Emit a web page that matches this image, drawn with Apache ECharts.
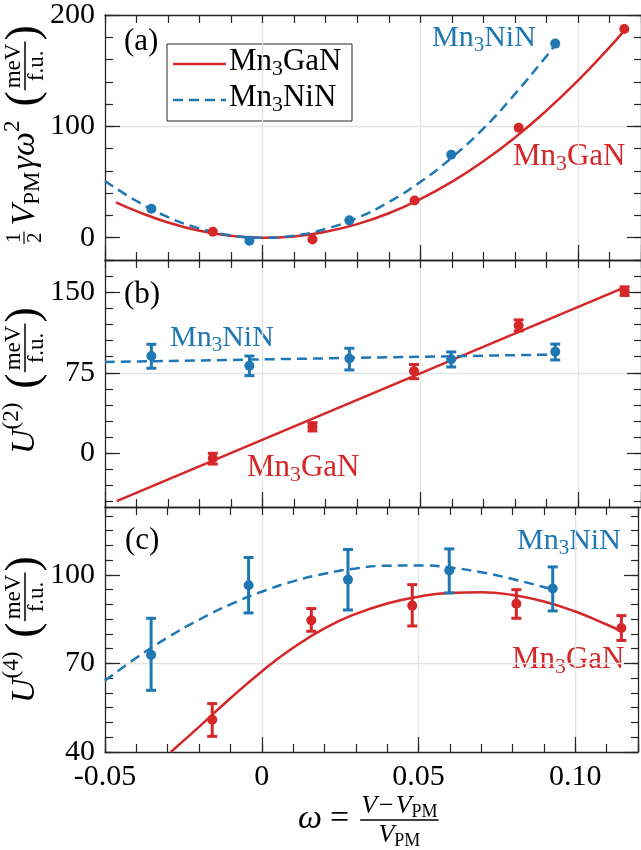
<!DOCTYPE html>
<html>
<head>
<meta charset="utf-8">
<script src="https://cdn.jsdelivr.net/npm/echarts@6/dist/echarts.min.js"></script>
<style>
  html, body { margin: 0; padding: 0; background: #fff; }
  #chart { width: 641px; height: 850px; }
</style>
</head>
<body>
<div id="chart"></div>
<script>
// shared x range and tick labels
const xMin = -0.05, xMax = 0.12
const xTicks = [-0.05, 0, 0.05, 0.10]
const xTickLabels = ["-0.05", "0", "0.05", "0.10"]

const yRangeA = [-20, 200], yTicksA = [0, 100, 200]
const yRangeB = [-50, 180], yTicksB = [0, 75, 150]
const yRangeC = [40, 123], yTicksC = [40, 70, 100]

// (a) 1/2 V_PM gamma omega^2  [omega, value]
const aGaPts = [[-0.0158, 5.4], [0.0158, -1.5], [0.0482, 33.5], [0.0812, 98.8], [0.1147, 187.4]]
const aNiPts = [[-0.0353, 26], [-0.0042, -2.7], [0.0275, 15.6], [0.0598, 74.5], [0.0928, 174.3]]
const aGaFit = [[-0.0465, 31.8], [-0.04, 23.9], [-0.03, 13.7], [-0.02, 6.2], [-0.01, 1.7], [0, 0], [0.01, 1.2],
  [0.02, 5.3], [0.03, 12.2], [0.04, 22], [0.05, 34.7], [0.06, 50.2], [0.07, 68.6], [0.08, 89.9], [0.09, 114.1],
  [0.10, 141.1], [0.11, 171], [0.1147, 186]]
const aNiFit = [[-0.05, 51], [-0.04, 33], [-0.03, 18.5], [-0.02, 8.3], [-0.01, 2.1], [0, 0], [0.01, 1.9],
  [0.02, 7.9], [0.03, 17.9], [0.04, 32], [0.05, 50], [0.06, 72], [0.07, 98], [0.08, 129], [0.09, 163],
  [0.093, 174]]

// (b) U(2)  [omega, value, low, high]
const bGaPts = [[-0.0158, -4.7, -10, 0], [0.0158, 24.8, 20.8, 28.5], [0.048, 76.5, 69.5, 82.7],
  [0.0812, 119, 114, 124.2], [0.1148, 151, 147, 155]]
const bNiPts = [[-0.0353, 90.6, 79.2, 101.5], [-0.0042, 81.6, 72.3, 90.6], [0.0275, 88.2, 77.6, 97.8],
  [0.0598, 87.6, 80.4, 94.4], [0.0928, 94.5, 86.9, 101.7]]
const bGaFit = [[-0.0463, -44.5], [0.1148, 154.5]]
const bNiFit = [[-0.05, 85], [0.093, 92]]

// (c) U(4)  [omega, value, low, high]
const cGaPts = [[-0.0158, 50.9, 45.3, 56.4], [0.0158, 84.6, 80.9, 88.6], [0.048, 89.6, 82.7, 96.7],
  [0.0812, 90.2, 85.3, 95.0], [0.1147, 82.0, 77.8, 86.2]]
const cNiPts = [[-0.0353, 72.9, 60.9, 85.3], [-0.0042, 96.5, 87.1, 105.9], [0.0275, 98.4, 88.1, 108.6],
  [0.0598, 101.5, 93.9, 108.8], [0.0928, 95.4, 87.8, 102.7]]
const cGaFit = [[-0.029, 40], [-0.02, 48.5], [-0.01, 58.2], [0, 67.3], [0.01, 75.3], [0.02, 81.9], [0.03, 86.8],
  [0.04, 90.3], [0.05, 92.6], [0.06, 93.9], [0.07, 94.1], [0.08, 93.2], [0.09, 91], [0.10, 87.6],
  [0.11, 83.2], [0.1147, 80.9]]
const cNiFit = [[-0.05, 64.2], [-0.04, 71.9], [-0.03, 78.8], [-0.02, 84.8], [-0.01, 90], [0, 94.3], [0.01, 97.8],
  [0.02, 100.4], [0.03, 102.2], [0.04, 103.1], [0.05, 103.2], [0.06, 102.5], [0.07, 100.9], [0.08, 98.6],
  [0.093, 95]]

const RED = "#d62728"
const BLUE = "#1f77b4"
const INK = "#262626"
const GRID = "#e4e4e4"
const FONT = '"Liberation Serif", "DejaVu Serif", serif'

const grids = [
  { left: 105, top: 14, width: 537, height: 246 },
  { left: 105, top: 260, width: 537, height: 247 },
  { left: 105, top: 507, width: 537, height: 245 },
]

function minorValues(range, step) {
  const out = []
  for (let v = Math.ceil(range[0] / step) * step; v <= range[1] + 1e-9; v += step) out.push(+v.toFixed(6))
  return out
}

function yAxesFor(g, range, major, step) {
  const minor = minorValues(range, step)
  const base = {
    gridIndex: g, type: "value", min: range[0], max: range[1],
    axisLine: { show: false, onZero: false }, axisLabel: { show: false }, splitLine: { show: false },
  }
  const frame = { show: true, onZero: false, lineStyle: { color: INK, width: 1.3 } }
  const tick = (len, vals) => ({ show: true, inside: true, length: len, customValues: vals, lineStyle: { color: INK, width: 1.2 } })
  return [
    {
      ...base, position: "left", axisTick: tick(15, major),
      axisLabel: { show: true, customValues: major, margin: 10, color: "#000", fontSize: 30, fontFamily: FONT },
      splitLine: { show: true, showMinLine: false, showMaxLine: false, lineStyle: { color: GRID, width: 1.3 } },
    },
    { ...base, position: "left", axisLine: frame, axisTick: tick(8, minor) },
    { ...base, position: "right", axisLine: frame, axisTick: tick(7, minor) },
    { ...base, position: "right", axisTick: tick(14, major) },
  ]
}

function xAxesFor(g, showLabel) {
  const base = {
    gridIndex: g, type: "value", min: xMin, max: xMax,
    axisLine: { show: false, onZero: false }, axisLabel: { show: false }, splitLine: { show: false },
  }
  const frame = { show: true, onZero: false, lineStyle: { color: INK, width: 1.3 } }
  const tick = (len) => ({ show: true, inside: true, length: len, lineStyle: { color: INK, width: 1.2 } })
  return [
    {
      ...base, position: "bottom", interval: 0.05, axisTick: tick(15),
      axisLabel: {
        show: showLabel, margin: 10, color: "#000", fontSize: 30, fontFamily: FONT,
        formatter: (v) => {
          const i = xTicks.findIndex((t) => Math.abs(t - v) < 1e-9)
          return i < 0 ? "" : xTickLabels[i]
        },
      },
      splitLine: { show: true, showMinLine: false, showMaxLine: false, lineStyle: { color: GRID, width: 1.3 } },
    },
    { ...base, position: "bottom", interval: 0.01, axisLine: frame, axisTick: tick(8) },
    { ...base, position: "top", interval: 0.01, axisLine: frame, axisTick: tick(8) },
  ]
}

function errorBars(g, data, color) {
  return {
    type: "custom", xAxisIndex: 3 * g, yAxisIndex: 4 * g, data, z: 3,
    encode: { x: 0, y: [2, 3] },
    renderItem: (params, api) => {
      const x = api.value(0)
      const lo = api.coord([x, api.value(2)])
      const hi = api.coord([x, api.value(3)])
      const w = 5
      const st = { stroke: color, lineWidth: 3 }
      return {
        type: "group", children: [
          { type: "line", shape: { x1: lo[0], y1: lo[1], x2: hi[0], y2: hi[1] }, style: st },
          { type: "line", shape: { x1: lo[0] - w, y1: lo[1], x2: lo[0] + w, y2: lo[1] }, style: st },
          { type: "line", shape: { x1: hi[0] - w, y1: hi[1], x2: hi[0] + w, y2: hi[1] }, style: st },
        ],
      }
    },
  }
}

function dots(g, data, color) {
  return {
    type: "scatter", xAxisIndex: 3 * g, yAxisIndex: 4 * g, z: 4,
    data: data.map((d) => [d[0], d[1]]), symbolSize: 10, itemStyle: { color, opacity: 1 },
  }
}

function fit(g, data, color, dashed) {
  return {
    type: "line", xAxisIndex: 3 * g, yAxisIndex: 4 * g, data, smooth: true, showSymbol: false, z: 2,
    lineStyle: { color, width: 2.5, type: dashed ? [10, 6] : "solid" },
  }
}

// ---- small math-text layout for the labels ----
const mctx = document.createElement("canvas").getContext("2d")
const fontOf = (t) => (t.i ? "italic " : "") + t.s + "px " + FONT
function widthOf(tokens) {
  let w = 0
  for (const t of tokens) {
    if (t.gap) w += t.gap
    else if (t.num) w += fracW(t)
    else { mctx.font = fontOf(t); w += mctx.measureText(t.t).width }
  }
  return w
}
function fracW(t) { return Math.max(widthOf(t.num), widthOf(t.den)) + 2 * (t.pad || 2) }
function place(tokens, x, y, fill, out) {
  for (const t of tokens) {
    if (t.gap) { x += t.gap; continue }
    if (t.num) {
      const w = fracW(t), yb = y + (t.dy || 0)
      place(t.num, x + (w - widthOf(t.num)) / 2, yb - t.up, fill, out)
      place(t.den, x + (w - widthOf(t.den)) / 2, yb + t.down, fill, out)
      out.push({ type: "line", silent: true, shape: { x1: x + 1, y1: yb, x2: x + w - 1, y2: yb }, style: { stroke: fill, lineWidth: t.lw || 1.3 } })
      x += w
      continue
    }
    const f = fontOf(t)
    out.push({
      type: "text", silent: true, x, y: y + (t.dy || 0),
      style: { text: t.t, font: f, fill, align: "left", verticalAlign: "middle", textAlign: "left", textVerticalAlign: "middle" },
    })
    mctx.font = f
    x += mctx.measureText(t.t).width
  }
  return x
}
function mathGroup(tokens, x, y, fill, rotation) {
  const children = []
  place(tokens, 0, 0, fill, children)
  return { type: "group", x, y, rotation: rotation || 0, z: 100, children }
}

const unitFrac = [{ t: "(", s: 46 }, { num: [{ t: "meV", s: 23 }], den: [{ t: "f.u.", s: 23 }], up: 11, down: 12, pad: 3, lw: 1.5 }, { t: ")", s: 46 }]
const mn = (rest, size) => [{ t: "Mn", s: size }, { t: "3", s: size * 0.7, dy: 7 }, { t: rest, s: size }]

const yLabelA = [
  { num: [{ t: "1", s: 21 }], den: [{ t: "2", s: 21 }], up: 10, down: 11, pad: 2, lw: 1.2, dy: -1 },
  { gap: 5 },
  { t: "V", s: 34, i: true }, { t: "PM", s: 23, dy: 8 }, { gap: 2 },
  { t: "γω", s: 34, i: true }, { t: "2", s: 23, dy: -12 },
  { gap: 14 }, ...unitFrac,
]
const yLabelB = [{ t: "U", s: 34, i: true }, { t: "(2)", s: 23, dy: -13 }, { gap: 14 }, ...unitFrac]
const yLabelC = [{ t: "U", s: 34, i: true }, { t: "(4)", s: 23, dy: -13 }, { gap: 14 }, ...unitFrac]
const xLabel = [
  { t: "ω", s: 34, i: true }, { gap: 8 }, { t: "=", s: 34 }, { gap: 10 },
  {
    num: [{ t: "V", s: 26, i: true }, { gap: 2 }, { t: "−", s: 26 }, { gap: 2 }, { t: "V", s: 26, i: true }, { t: "PM", s: 18, dy: 6 }],
    den: [{ t: "V", s: 26, i: true }, { t: "PM", s: 18, dy: 6 }],
    up: 14, down: 15, pad: 2, lw: 1.5, dy: 1,
  },
]

const legendBox = {
  type: "group", z: 100, children: [
    { type: "rect", shape: { x: 167, y: 44, width: 185, height: 77 }, style: { fill: "#fff", stroke: INK, lineWidth: 1 } },
    { type: "line", shape: { x1: 173, y1: 64, x2: 226, y2: 64 }, style: { stroke: RED, lineWidth: 2.5 } },
    { type: "line", shape: { x1: 173, y1: 100, x2: 226, y2: 100 }, style: { stroke: BLUE, lineWidth: 2.5, lineDash: [10, 6] } },
  ],
}

const plain = (text, x, y) => ({
  type: "text", z: 100, x, y,
  style: { text, font: "31px " + FONT, fill: "#000", align: "left", verticalAlign: "middle", textAlign: "left", textVerticalAlign: "middle" },
})

const chart = echarts.init(document.getElementById("chart"), null, { renderer: "canvas" })
chart.setOption({
  animation: false,
  backgroundColor: "#fff",
  grid: grids,
  xAxis: [...xAxesFor(0, false), ...xAxesFor(1, false), ...xAxesFor(2, true)],
  yAxis: [...yAxesFor(0, yRangeA, yTicksA, 20), ...yAxesFor(1, yRangeB, yTicksB, 15), ...yAxesFor(2, yRangeC, yTicksC, 5)],
  series: [
    fit(0, aGaFit, RED, false), fit(0, aNiFit, BLUE, true),
    dots(0, aGaPts, RED), dots(0, aNiPts, BLUE),

    fit(1, bGaFit, RED, false), fit(1, bNiFit, BLUE, true),
    errorBars(1, bGaPts, RED), errorBars(1, bNiPts, BLUE),
    dots(1, bGaPts, RED), dots(1, bNiPts, BLUE),

    fit(2, cGaFit, RED, false), fit(2, cNiFit, BLUE, true),
    errorBars(2, cGaPts, RED), errorBars(2, cNiPts, BLUE),
    dots(2, cGaPts, RED), dots(2, cNiPts, BLUE),
  ],
  graphic: [
    legendBox,
    mathGroup(mn("GaN", 31), 229, 62, "#000"),
    mathGroup(mn("NiN", 31), 229, 98, "#000"),
    plain("(a)", 124, 42), plain("(b)", 124, 295), plain("(c)", 125, 541),
    mathGroup(mn("NiN", 30), 432, 38, BLUE),
    mathGroup(mn("GaN", 31), 513, 157, RED),
    mathGroup(mn("NiN", 30), 170, 338, BLUE),
    mathGroup(mn("GaN", 31), 247, 468, RED),
    mathGroup(mn("NiN", 30), 517, 541, BLUE),
    mathGroup(mn("GaN", 31), 512, 660, RED),
    mathGroup(yLabelA, 25, 245, "#000", Math.PI / 2),
    mathGroup(yLabelB, 25, 454, "#000", Math.PI / 2),
    mathGroup(yLabelC, 25, 703, "#000", Math.PI / 2),
    mathGroup(xLabel, 298, 819, "#000"),
  ],
})
</script>
</body>
</html>
